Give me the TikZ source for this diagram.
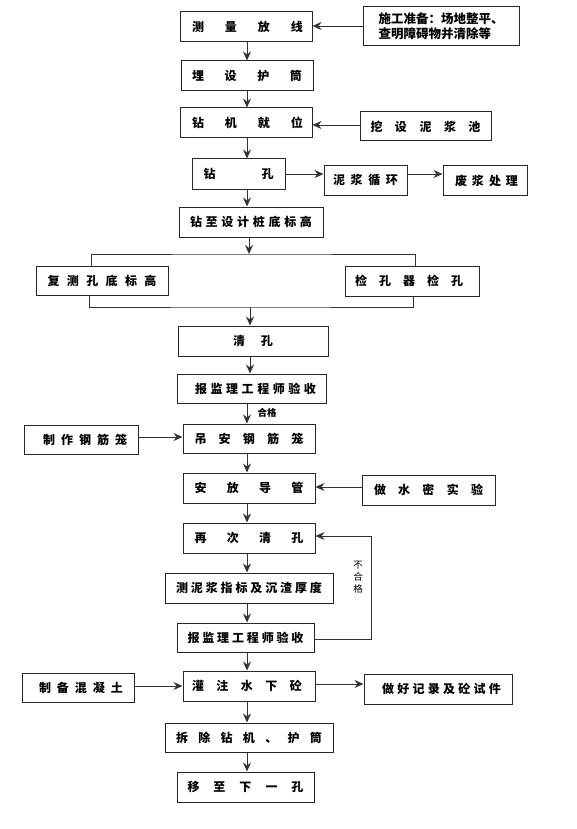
\documentclass[tikz,border=0pt]{standalone}
\usepackage{fontspec}
\setmainfont{Noto Sans CJK SC}
\usetikzlibrary{arrows.meta}
\newcommand\sprd[3][0]{\hspace*{#1pt}\makebox[#2pt]{#3}}
\begin{document}
\begin{tikzpicture}[x=1pt,y=-1pt,
  box/.style={draw=black!85, line width=1pt, inner sep=0pt, font=\fontsize{12}{14}\selectfont\bfseries},
  b30/.style={box, minimum height=30pt},
  conn/.style={draw=black!80, line width=0.9pt},
  arr/.style={conn, -{Stealth[length=9pt,width=8pt,inset=3pt]}},
  lbl/.style={inner sep=0pt, font=\fontsize{9.5}{12}\selectfont},
]
\useasboundingbox (0,0) rectangle (576,829);
\coordinate (col) at (247,0);

% main column
\node[b30, minimum width=132pt] (measure) at (246,27) {\sprd[3]{111}{测\hfill 量\hfill 放\hfill 线}};
\node[b30, minimum width=132pt] (embed) at (247,76) {\sprd{110}{埋\hfill 设\hfill 护\hfill 筒}};
\node[b30, minimum width=132pt] (rig) at (246,123) {\sprd[3]{111}{钻\hfill 机\hfill 就\hfill 位}};
\node[b30, minimum width=93pt] (drill) at (238.5,174) {\sprd{70}{钻\hfill 孔}};
\node[b30, minimum width=144pt] (drillto) at (251,222) {\sprd{122}{钻\hfill 至\hfill 设\hfill 计\hfill 桩\hfill 底\hfill 标\hfill 高}};
\node[b30, minimum width=132pt, minimum height=29pt] (recheck) at (102,280.5) {\sprd{109}{复\hfill 测\hfill 孔\hfill 底\hfill 标\hfill 高}};
\node[b30, minimum width=134pt] (holecheck) at (412,281) {\sprd{108}{检\hfill 孔\hfill 器\hfill 检\hfill 孔}\hspace*{6pt}};
\node[b30, minimum width=150pt] (clean) at (253,341) {\sprd{40}{清\hfill 孔}};
\node[b30, minimum width=149pt, minimum height=29pt] (report1) at (251.5,388.5) {\sprd[8]{121}{报\hfill 监\hfill 理\hfill 工\hfill 程\hfill 师\hfill 验\hfill 收}};
\node[b30, minimum width=132pt, minimum height=29pt] (hoist) at (249,438.5) {\sprd{109}{吊\hfill 安\hfill 钢\hfill 筋\hfill 笼}};
\node[b30, minimum width=132pt] (pipe) at (249,488) {\sprd{109}{安\hfill 放\hfill 导\hfill 管}};
\node[b30, minimum width=132pt] (reclean) at (249,538) {\sprd{109}{再\hfill 次\hfill 清\hfill 孔}};
\node[b30, minimum width=168pt] (mudtest) at (249,588) {\sprd{146}{测\hfill 泥\hfill 浆\hfill 指\hfill 标\hfill 及\hfill 沉\hfill 渣\hfill 厚\hfill 度}};
\node[b30, minimum width=137pt, minimum height=29pt] (report2) at (245.5,637.5) {\sprd{116}{报\hfill 监\hfill 理\hfill 工\hfill 程\hfill 师\hfill 验\hfill 收}};
\node[b30, minimum width=132pt] (pour) at (249,686) {\hspace*{-4pt}\sprd{110}{灌\hfill 注\hfill 水\hfill 下\hfill 砼}};
\node[b30, minimum width=168pt, minimum height=29pt] (remove) at (249,737.5) {\sprd{146}{拆\hfill 除\hfill 钻\hfill 机\hfill 、\hfill 护\hfill 筒}};
\node[b30, minimum width=137pt] (next) at (245.5,787) {\sprd{116}{移\hfill 至\hfill 下\hfill 一\hfill 孔}};

% side boxes
\node[box, minimum width=156pt, minimum height=39pt, align=left, font=\fontsize{12.5}{15}\selectfont\bfseries] (prep) at (441,26.5) {施工准备：场地整平、\\查明障碍物并清除等};
\node[box, minimum width=131pt, minimum height=29pt] (pool) at (425.5,126.5) {\sprd{110}{挖\hfill 设\hfill 泥\hfill 浆\hfill 池}};
\node[box, minimum width=83pt, minimum height=29pt] (mudcycle) at (365.5,180.5) {\sprd{65}{泥\hfill 浆\hfill 循\hfill 环}};
\node[box, minimum width=84pt, minimum height=29pt] (waste) at (485,180.5) {\sprd[3]{63}{废\hfill 浆\hfill 处\hfill 理}};
\node[box, minimum width=114pt, minimum height=29pt] (cage) at (81,439.5) {\sprd[8]{84}{制\hfill 作\hfill 钢\hfill 筋\hfill 笼}};
\node[b30, minimum width=133pt] (watertest) at (428.5,490) {\sprd{109}{做\hfill 水\hfill 密\hfill 实\hfill 验}};
\node[box, minimum width=112pt, minimum height=29pt] (concrete) at (78,687.5) {\sprd[6]{84}{制\hfill 备\hfill 混\hfill 凝\hfill 土}};
\node[b30, minimum width=148pt] (record) at (438,689) {\sprd[7]{119}{做\hfill 好\hfill 记\hfill 录\hfill 及\hfill 砼\hfill 试\hfill 件}};

% labels
\node[lbl, font=\fontsize{9.5}{12}\selectfont\bfseries] (ok) at (267,413) {合格};
\node[lbl, align=center] (notok) at (358,577) {不\\合\\格};

% bus coordinates
\coordinate (bt) at (249,254);
\coordinate (bb) at (250,307);

% main arrows
\draw[arr] (measure.south -| col) -- (embed.north -| col);
\draw[arr] (embed.south -| col) -- (rig.north -| col);
\draw[arr] (rig.south -| col) -- (drill.north -| col);
\draw[arr] (drill.south -| col) -- (drillto.north -| col);
\draw[arr] (drillto.south -| bt) -- (bt);
\draw[conn] (recheck.north -| 91,0) |- (bt) -| (holecheck.north -| 415,0);
\draw[conn] (recheck.south -| 89,0) |- (bb) -| (holecheck.south -| 413,0);
\draw[arr] (bb) -- (clean.north -| bb);
\draw[arr] (clean.south -| bb) -- (report1.north -| bb);
\draw[arr] (report1.south -| col) -- (hoist.north -| col);
\draw[arr] (hoist.south -| col) -- (pipe.north -| col);
\draw[arr] (pipe.south -| col) -- (reclean.north -| col);
\draw[arr] (reclean.south -| col) -- (mudtest.north -| col);
\draw[arr] (mudtest.south -| col) -- (report2.north -| col);
\draw[arr] (report2.south -| col) -- (pour.north -| col);
\draw[arr] (pour.south -| col) -- (remove.north -| col);
\draw[arr] (remove.south -| col) -- (next.north -| col);

% side arrows
\draw[arr] (prep.west |- 0,26) -- (measure.east |- 0,26);
\draw[arr] (pool.west |- 0,125) -- (rig.east |- 0,125);
\draw[arr] (drill.east) -- (mudcycle.west |- drill.east);
\draw[arr] (mudcycle.east |- drill.east) -- (waste.west |- drill.east);
\draw[arr] (cage.east |- 0,437) -- (hoist.west |- 0,437);
\draw[arr] (watertest.west |- 0,487) -- (pipe.east |- 0,487);
\draw[arr] (concrete.east |- 0,686) -- (pour.west |- 0,686);
\draw[arr] (pour.east |- 0,684) -- (record.west |- 0,684);
\coordinate (fb) at (371,0);
\draw[arr] (report2.east |- 0,639) -| (fb |- 0,536) -- (reclean.east |- 0,536);
\end{tikzpicture}
\end{document}
